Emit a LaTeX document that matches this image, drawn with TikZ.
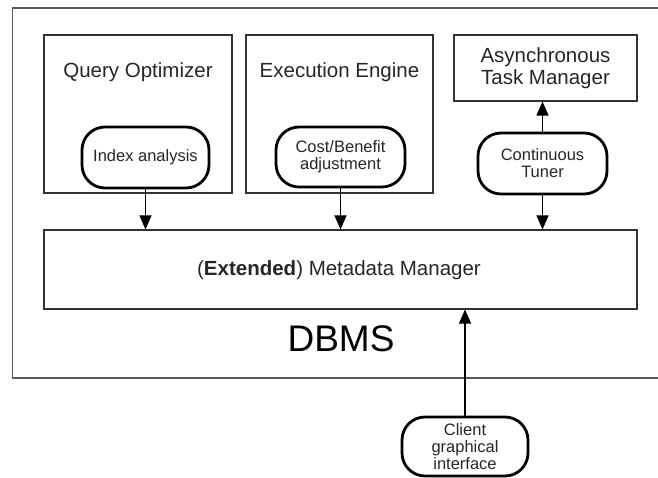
\documentclass[tikz,border=0pt]{standalone}
\usepackage{fontspec}
\setmainfont{Liberation Sans}
\usetikzlibrary{arrows.meta}
\tikzset{
  sqbox/.style={draw=black!80, line width=1.1pt, rectangle, inner sep=0pt},
  outerbox/.style={draw=black!65, line width=1.3pt, rectangle, inner sep=0pt},
  roundbox/.style={draw=black, line width=2.8pt, rectangle, rounded corners=23pt, inner sep=0pt, align=center, font=\fontsize{16.5}{17}\selectfont, text=black!85},
  biglabel/.style={font=\fontsize{20.5}{22}\selectfont, text=black!85, align=center, inner sep=0pt},
  conn/.style={draw=black, line width=1.1pt, -{Triangle[length=14pt,width=12pt]}}
}
\begin{document}
\begin{tikzpicture}[x=1pt,y=-1pt]
\useasboundingbox (0,0) rectangle (658,478);
\clip (0,0) rectangle (658,478);
% outer DBMS box (right side runs off the page)
\node[outerbox, minimum width=670pt, minimum height=370pt] (dbms) at (347.5,193) {};
\node[font=\fontsize{37}{38}\selectfont, inner sep=0pt] (dbmslabel) at (341,339) {DBMS};
% component boxes
\node[sqbox, minimum width=188pt, minimum height=158pt] (qo) at (138,114) {};
\node[biglabel] (qolabel) at (138,72) {Query Optimizer};
\node[sqbox, minimum width=187pt, minimum height=158pt] (ee) at (339.5,114) {};
\node[biglabel] (eelabel) at (339.5,72) {Execution Engine};
\node[sqbox, minimum width=183pt, minimum height=66pt, biglabel] (atm) at (545.5,68) {Asynchronous\\[0pt]Task Manager};
\node[sqbox, minimum width=593pt, minimum height=79pt] (mm) at (340.5,269.5) {};
\node[biglabel] (mmlabel) at (339,270) {(\textbf{Extended}) Metadata Manager};
% rounded activity nodes
\node[roundbox, minimum width=127pt, minimum height=61pt] (ia) at (145.5,157.5) {Index analysis};
\node[roundbox, minimum width=129pt, minimum height=60pt] (cb) at (340.5,157) {Cost/Benefit\\adjustment};
\node[roundbox, minimum width=129pt, minimum height=61pt] (ct) at (542.5,163.5) {Continuous\\Tuner};
\node[roundbox, minimum width=126pt, minimum height=59pt] (cg) at (465,446.5) {Client\\graphical\\interface};
% connectors
\draw[conn] (ia.south) -- (ia.south |- mm.north);
\draw[conn] (cb.south) -- (cb.south |- mm.north);
\draw[conn] (ct.south) -- (ct.south |- mm.north);
\draw[conn] (ct.north) -- (ct.north |- atm.south);
\draw[conn] (cg.north) -- (cg.north |- mm.south);
\end{tikzpicture}
\end{document}
